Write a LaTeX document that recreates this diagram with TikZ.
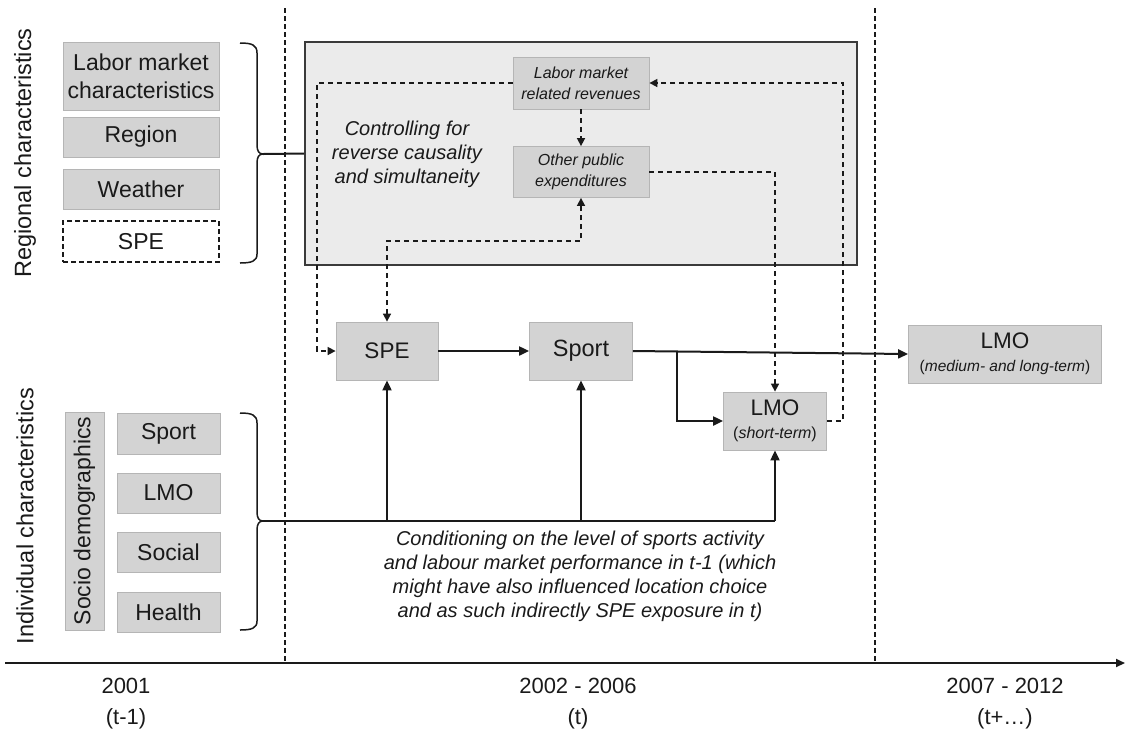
\documentclass[tikz,border=0pt]{standalone}
\usepackage{fontspec}
\setmainfont{Liberation Sans}
\usetikzlibrary{arrows.meta,calc}
\definecolor{boxgray}{HTML}{D3D3D3}
\definecolor{boxedge}{HTML}{B5B5B5}
\definecolor{panel}{HTML}{EBEBEB}
\definecolor{panedge}{HTML}{3A3A3A}
\definecolor{ink}{HTML}{1A1A1A}
\newcommand\fsz[2]{\fontsize{#1}{#2}\selectfont}
\tikzset{
  gbox/.style={fill=boxgray, draw=boxedge, line width=0.8pt, inner sep=0pt, align=center, text=ink},
  arr/.style={line width=2pt, draw=ink, -{Triangle[length=10pt,width=9pt]}},
  plain/.style={line width=2pt, draw=ink},
  darr/.style={line width=1.6pt, draw=ink, dash pattern=on 5pt off 4pt, -{Triangle[length=8pt,width=8pt]}},
  dboth/.style={line width=1.6pt, draw=ink, dash pattern=on 5pt off 4pt, {Triangle[length=8pt,width=8pt]}-{Triangle[length=8pt,width=8pt]}},
  vdash/.style={line width=2pt, draw=ink, dash pattern=on 5pt off 3pt},
  lab/.style={text=ink, align=center, inner sep=0pt},
}
\begin{document}
\begin{tikzpicture}[x=1pt,y=-1pt]
\useasboundingbox (0,0) rectangle (1126,740);

% side labels
\node[lab, rotate=90, font=\fsz{23.5}{26}] (reglab) at (25,153) {Regional characteristics};
\node[lab, rotate=90, font=\fsz{23.5}{26}] (indlab) at (25,516) {Individual characteristics};

% regional boxes
\node[gbox, minimum width=156pt, minimum height=68pt, font=\fsz{23}{28}] (lmc) at (141,76) {Labor market\\characteristics};
\node[gbox, minimum width=156pt, minimum height=40pt, font=\fsz{23}{26}] (region) at (141,137) {Region};
\node[gbox, minimum width=156pt, minimum height=40pt, font=\fsz{23}{26}] (weather) at (141,189) {Weather};
\node[gbox, fill=white, draw=ink, dash pattern=on 5pt off 3pt, line width=1.4pt, minimum width=156pt, minimum height=41pt, font=\fsz{23}{26}] (spe0) at (141,241.5) {SPE};

% individual boxes
\node[gbox, rotate=90, minimum width=218pt, minimum height=39pt, font=\fsz{23}{26}] (socio) at (84.5,521) {Socio demographics};
\node[gbox, minimum width=103pt, minimum height=41pt, font=\fsz{23}{26}] (sport0) at (168.5,433.5) {Sport};
\node[gbox, minimum width=103pt, minimum height=40pt, font=\fsz{23}{26}] (lmo0) at (168.5,493) {LMO};
\node[gbox, minimum width=103pt, minimum height=40pt, font=\fsz{23}{26}] (social) at (168.5,552) {Social};
\node[gbox, minimum width=103pt, minimum height=40pt, font=\fsz{23}{26}] (health) at (168.5,612) {Health};

% braces
\coordinate (rb) at (263,154);
\coordinate (ib) at (263,521);
\draw[line width=1.5pt, draw=ink] (240,43) .. controls (252,43) and (257,45) .. (257,53) -- (257,145)
   .. controls (257,151) and (259,154) .. (rb) .. controls (259,154) and (257,157) .. (257,163)
   -- (257,254) .. controls (257,261) and (252,263) .. (240,263);
\draw[line width=1.5pt, draw=ink] (240,413) .. controls (252,413) and (257,415) .. (257,423) -- (257,512)
   .. controls (257,518) and (259,521) .. (ib) .. controls (259,521) and (257,524) .. (257,530)
   -- (257,621) .. controls (257,628) and (252,630) .. (240,630);

% control panel
\node[fill=panel, draw=panedge, line width=1.8pt, minimum width=552pt, minimum height=223pt, inner sep=0pt] (ctrl) at (581,153.5) {};
\node[gbox, minimum width=136pt, minimum height=52pt, font=\itshape\fsz{16}{21}] (lmr) at (581,83) {Labor market\\related revenues};
\node[gbox, minimum width=136pt, minimum height=51pt, font=\itshape\fsz{16}{21}] (ope) at (581,172) {Other public\\expenditures};
\node[lab, font=\itshape\fsz{20}{24}] (ctrltxt) at (407,154) {Controlling for\\reverse causality\\and simultaneity};

% main chain
\node[gbox, minimum width=102pt, minimum height=58pt, font=\fsz{22.5}{26}] (spe) at (387,351) {SPE};
\node[gbox, minimum width=103pt, minimum height=58pt, font=\fsz{23.5}{26}] (sport) at (581,351) {Sport};
\node[gbox, minimum width=103pt, minimum height=58pt, font=\fsz{22.5}{23}] (lmos) at (775,421)
  {LMO\\{\fsz{16}{23}(\textit{short-term})}};
\node[gbox, minimum width=193pt, minimum height=58pt, font=\fsz{22.5}{23}] (lmol) at (1005,354)
  {LMO\\{\fsz{15.5}{23}(\textit{medium- and long-term})}};

% period separators and axis
\coordinate (s1t) at (285,8);  \coordinate (s1b) at (285,663);
\coordinate (s2t) at (875,8);  \coordinate (s2b) at (875,663);
\draw[vdash] (s1t) -- (s1b);
\draw[vdash] (s2t) -- (s2b);
\coordinate (ax0) at (5,663); \coordinate (ax1) at (1125,663);
\draw[line width=1.8pt, draw=ink, -{Triangle[length=9pt,width=8pt]}] (ax0) -- (ax1);

% solid connectors
\draw[plain] (rb) -- (ctrl.west);
\draw[arr] (spe) -- (sport);
\draw[arr] (sport.east) -- (lmol.west);
\coordinate (split) at (677,351);
\draw[arr] (split) |- (lmos.west);
\draw[plain] (ib) -- (ib -| lmos);
\draw[arr] (ib -| lmos) -- (lmos.south);
\draw[arr] (ib -| spe) -- (spe.south);
\draw[arr] (ib -| sport) -- (sport.south);

% dashed connectors
\draw[darr] (lmr.south) -- (ope.north);
\coordinate (lx) at (317,351);
\draw[darr] (lmr.west) -| (lx) -- (spe.west);
\coordinate (oy) at (387,241);
\draw[dboth] (spe.north) -- (oy) -| (ope.south);
\draw[darr] (ope.east) -| (lmos.north);
\coordinate (rx) at (843,421);
\draw[darr] (lmos.east) -- (rx) |- (lmr.east);

% conditioning text
\node[lab, font=\itshape\fsz{20}{24}] (cond) at (580,576) {Conditioning on the level of sports activity\\and labour market performance in t-1 (which\\might have also influenced location choice\\and as such indirectly SPE exposure in t)};

% time labels
\node[lab, font=\fsz{22}{24}] (y1) at (126,686) {2001};
\node[lab, font=\fsz{22}{24}] (t1) at (126,719) {(t-1)};
\node[lab, font=\fsz{22}{24}] (y2) at (578,686) {2002 - 2006};
\node[lab, font=\fsz{22}{24}] (t2) at (578,719) {(t)};
\node[lab, font=\fsz{22}{24}] (y3) at (1005,686) {2007 - 2012};
\node[lab, font=\fsz{22}{24}] (t3) at (1005,719) {(t+…)};
\end{tikzpicture}
\end{document}
